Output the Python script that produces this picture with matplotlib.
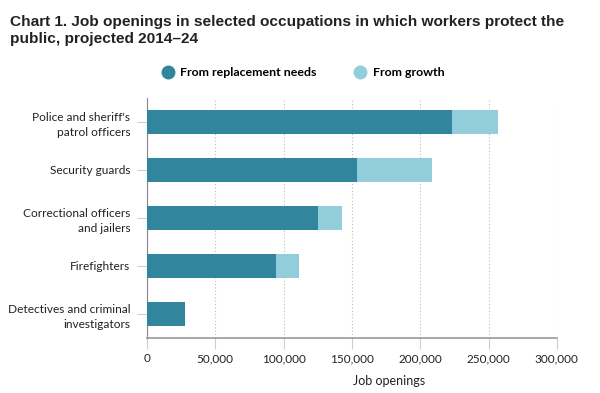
import numpy as np
import matplotlib.pyplot as plt
from matplotlib.lines import Line2D

# data
occupations = ["Police and sheriff's\npatrol officers", "Security guards",
               "Correctional officers\nand jailers", "Firefighters",
               "Detectives and criminal\ninvestigators"]
replacement = [223200, 153700, 124900, 94600, 27500]
growth = [34100, 55100, 17500, 16600, 500]
x_ticks = [0, 50000, 100000, 150000, 200000, 250000, 300000]

dark = '#31859C'
light = '#92CDDC'
body_font = 'Lato'


def main():
    fig = plt.figure(figsize=(6, 3.93), dpi=100)
    ax = fig.add_axes([0.245, 0.14, 0.683, 0.611])

    y = np.arange(len(occupations))
    ax.barh(y, replacement, height=0.5, color=dark, zorder=3)
    ax.barh(y, growth, left=replacement, height=0.5, color=light, zorder=3)

    ax.set_ylim(len(occupations) - 0.5, -0.5)
    ax.set_xlim(0, 300000)

    ax.set_yticks(y, labels=occupations)
    ax.set_xticks(x_ticks, labels=[f"{t:,}" for t in x_ticks])
    for lab in ax.get_yticklabels():
        lab.set_horizontalalignment('right')
        lab.set_multialignment('right')
        lab.set_linespacing(1.5)
    ax.tick_params(axis='y', length=7, color='#c5cde0', pad=5, labelsize=8.6, labelcolor='#222222')
    ax.tick_params(axis='x', length=8, color='#c5cde0', pad=3, labelsize=8.5, labelcolor='#222222')
    for lab in ax.get_xticklabels() + ax.get_yticklabels():
        lab.set_family(body_font)

    # dotted vertical grid
    ax.grid(axis='x', color='#bbbbbb', linestyle=(0, (1, 2)), linewidth=0.8, zorder=0)
    ax.spines['top'].set_visible(False)
    ax.spines['right'].set_visible(False)
    ax.spines['left'].set_color('#888888')
    ax.spines['bottom'].set_color('#999999')
    ax.spines['bottom'].set_linewidth(1.2)

    fig.text(389 / 600, 1 - 381 / 393, "Job openings", ha='center', va='center',
             fontsize=9, family=body_font, color='#222222')

    # title
    fig.text(10 / 600, 1 - 15 / 393,
             "Chart 1. Job openings in selected occupations in which workers protect the\npublic, projected 2014\u201324",
             ha='left', va='top', fontsize=11.1, fontweight='bold',
             family='Liberation Sans', color='#222222', linespacing=1.3)

    # legend drawn manually
    handles = [Line2D([], [], marker='o', linestyle='none', color=dark, markersize=9),
               Line2D([], [], marker='o', linestyle='none', color=light, markersize=9)]
    fig.legend(handles, ["From replacement needs", "From growth"], ncol=2,
               loc='center', bbox_to_anchor=(303 / 600, 1 - 73 / 393), frameon=False,
               prop={'family': body_font, 'size': 8.9, 'weight': 'bold'},
               handletextpad=0.5, columnspacing=3.0, handlelength=1.0)

    fig.savefig('out.png', dpi=100)


if __name__ == "__main__":
    main()
